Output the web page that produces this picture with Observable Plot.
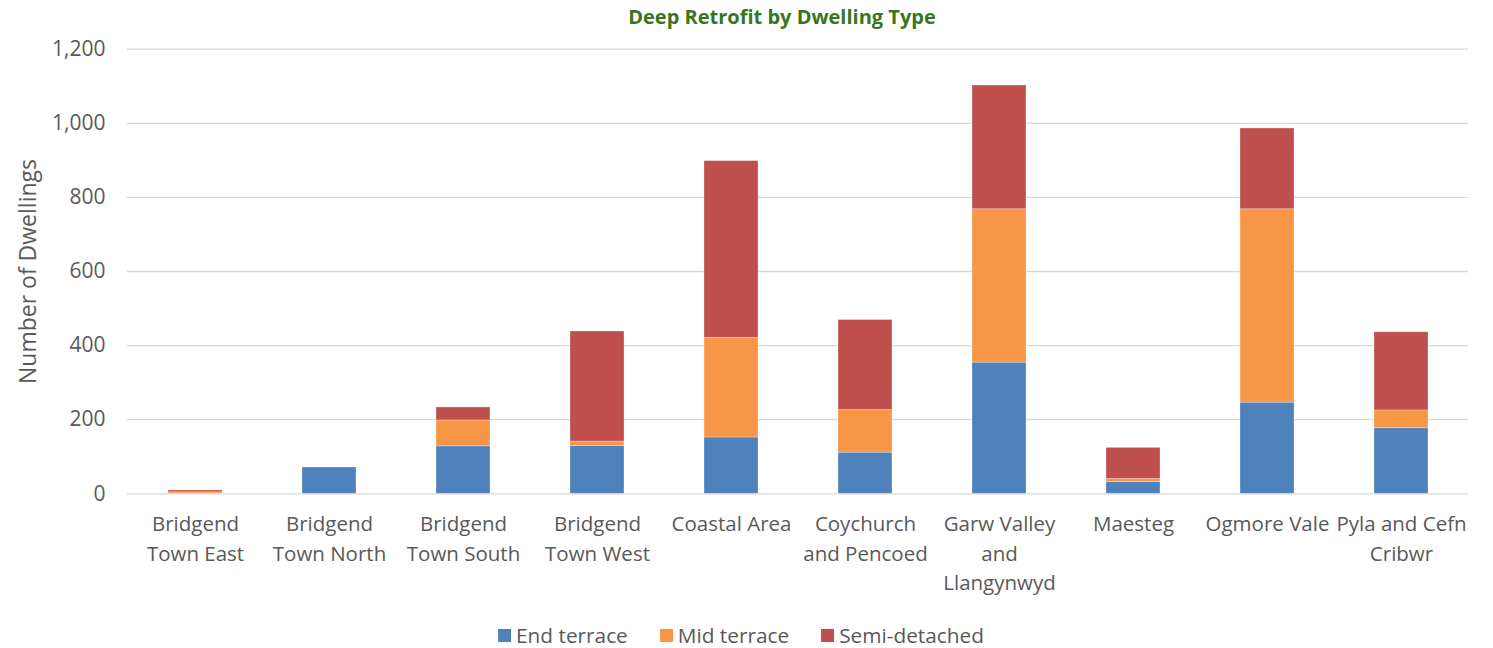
<!DOCTYPE html>
<html>
<head>
<meta charset="utf-8">
<script src="https://cdn.jsdelivr.net/npm/d3@7"></script>
<script src="https://cdn.jsdelivr.net/npm/@observablehq/plot@0.6"></script>
<style>
  html, body { margin: 0; padding: 0; background: #fff; }
  #wrap { position: relative; width: 1493px; height: 648px; font-family: "Open Sans", sans-serif; }
  #title { position: absolute; top: 3px; left: 782px; transform: translateX(-50%);
           font-size: 20px; font-weight: bold; color: #38761d; white-space: nowrap; }
  #chart { position: absolute; top: 0; left: 0; }
  #legend { position: absolute; top: 621px; left: 741px; transform: translateX(-50%);
            display: flex; gap: 32px; font-size: 20.8px; color: #595959; white-space: nowrap; }
  .item { display: flex; align-items: center; gap: 5px; }
  .sw { width: 13px; height: 13px; display: inline-block; }
</style>
</head>
<body>
<div id="wrap">
  <div id="chart"></div>
  <div id="title">Deep Retrofit by Dwelling Type</div>
  <div id="legend"></div>
</div>
<script>
// Wards of the county borough
const areas = [
  "Bridgend Town East", "Bridgend Town North", "Bridgend Town South", "Bridgend Town West",
  "Coastal Area", "Coychurch and Pencoed", "Garw Valley and Llangynwyd",
  "Maesteg", "Ogmore Vale", "Pyla and Cefn Cribwr"
];
// Axis labels, broken over lines
const areaLabels = [
  "Bridgend\nTown East", "Bridgend\nTown North", "Bridgend\nTown South", "Bridgend\nTown West",
  "Coastal Area", "Coychurch\nand Pencoed", "Garw Valley\nand\nLlangynwyd",
  "Maesteg", "Ogmore Vale", "Pyla and Cefn\nCribwr"
];
// Dwellings per type, one value per ward
const endTerrace   = [0, 71, 128, 129, 152, 111, 354, 32, 246, 177];
const midTerrace   = [4, 0, 70, 12, 269, 115, 414, 8, 522, 48];
const semiDetached = [5, 0, 35, 297, 477, 243, 334, 84, 218, 211];

const seriesNames = ["End terrace", "Mid terrace", "Semi-detached"];
const seriesColors = ["#4f81bd", "#f79646", "#c0504d"];
const yTicks = [0, 200, 400, 600, 800, 1000, 1200];

const seriesValues = [endTerrace, midTerrace, semiDetached];
const rows = [];
seriesNames.forEach((s, si) => {
  areas.forEach((a, ai) => rows.push({area: a, type: s, value: seriesValues[si][ai]}));
});
const labelOf = new Map(areas.map((a, i) => [a, areaLabels[i]]));

const H = 610;
const chart = Plot.plot({
  width: 1493,
  height: H,
  marginLeft: 127,
  marginRight: 25,
  marginTop: 48.7,
  marginBottom: H - 493.3,
  style: {fontFamily: "'Open Sans', sans-serif", color: "#595959", background: "white"},
  x: {domain: areas, paddingInner: 0.6, paddingOuter: 0.3},
  y: {domain: [0, 1200]},
  color: {domain: seriesNames, range: seriesColors},
  marks: [
    Plot.gridY(yTicks, {stroke: "#d9d9d9", strokeOpacity: 1, strokeWidth: 1.3}),
    Plot.barY(rows, Plot.stackY({order: seriesNames}, {
      x: "area", y: "value", fill: "type", z: "type",
      stroke: "white", strokeOpacity: 0.35, strokeWidth: 0.8
    })),
    Plot.axisX({
      tickSize: 0, tickPadding: 17, fontSize: 20.5, lineHeight: 1.42,
      tickFormat: d => labelOf.get(d), label: null, fill: "#595959"
    }),
    Plot.axisY(yTicks, {
      tickSize: 0, tickPadding: 22, fontSize: 21, fill: "#595959",
      tickFormat: d3.format(","), label: null
    }),
    Plot.text(["Number of Dwellings"], {
      frameAnchor: "left", dx: -99, rotate: -90, fontSize: 23, fill: "#595959",
      textAnchor: "middle"
    })
  ]
});
document.getElementById("chart").appendChild(chart);

const legend = document.getElementById("legend");
seriesNames.forEach((s, i) => {
  const item = document.createElement("div");
  item.className = "item";
  const sw = document.createElement("span");
  sw.className = "sw";
  sw.style.background = seriesColors[i];
  const t = document.createElement("span");
  t.textContent = s;
  item.appendChild(sw);
  item.appendChild(t);
  legend.appendChild(item);
});
</script>
</body>
</html>
